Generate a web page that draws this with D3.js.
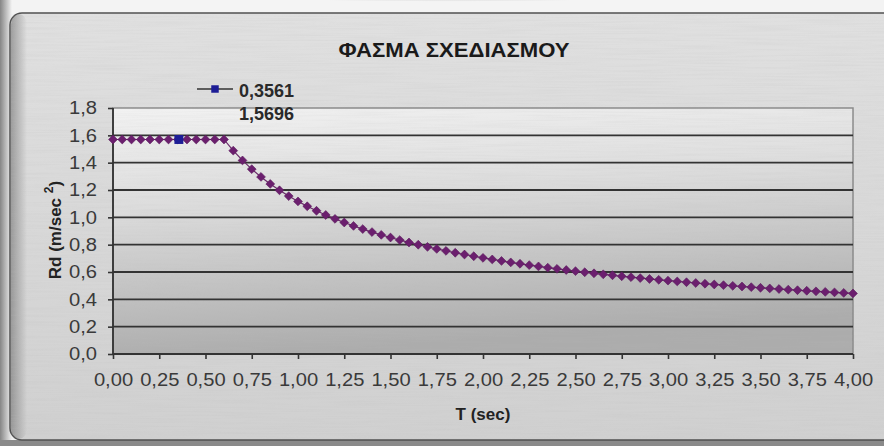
<!DOCTYPE html>
<html><head><meta charset="utf-8">
<script src="https://cdn.jsdelivr.net/npm/d3@7"></script>
<style>
html,body{margin:0;padding:0;background:#f2f2f2;}
svg{display:block;font-family:"Liberation Sans",Arial,sans-serif;}
</style></head>
<body>
<svg id="c" width="884" height="446"></svg>
<script>
// ---- data ----
const chartTitle = "ΦΑΣΜΑ ΣΧΕΔΙΑΣΜΟΥ";
const xTitle = "T (sec)";
const periods = [0.00,0.05,0.10,0.15,0.20,0.25,0.30,0.35,0.40,0.45,0.50,0.55,0.60,
  0.65,0.70,0.75,0.80,0.85,0.90,0.95,1.00,1.05,1.10,1.15,1.20,1.25,1.30,1.35,1.40,1.45,1.50,
  1.55,1.60,1.65,1.70,1.75,1.80,1.85,1.90,1.95,2.00,2.05,2.10,2.15,2.20,2.25,2.30,2.35,2.40,
  2.45,2.50,2.55,2.60,2.65,2.70,2.75,2.80,2.85,2.90,2.95,3.00,3.05,3.10,3.15,3.20,3.25,3.30,
  3.35,3.40,3.45,3.50,3.55,3.60,3.65,3.70,3.75,3.80,3.85,3.90,3.95,4.00];
const rdValues = [1.5696,1.5696,1.5696,1.5696,1.5696,1.5696,1.5696,1.5696,1.5696,1.5696,1.5696,1.5696,1.5696,
  1.4881,1.4163,1.3526,1.2957,1.2444,1.1978,1.1554,1.1166,1.0808,1.0479,1.0173,0.9888,0.9622,0.9374,
  0.9141,0.8922,0.8716,0.8521,0.8337,0.8162,0.7997,0.7839,0.7689,0.7546,0.7409,0.7279,0.7154,0.7034,
  0.6919,0.6809,0.6703,0.6601,0.6503,0.6408,0.6317,0.6229,0.6144,0.6062,0.5982,0.5905,0.5831,0.5759,
  0.5689,0.5621,0.5555,0.5491,0.5429,0.5368,0.5309,0.5252,0.5196,0.5142,0.5089,0.5037,0.4987,0.4938,
  0.4890,0.4844,0.4798,0.4754,0.4710,0.4668,0.4626,0.4585,0.4545,0.4507,0.4468,0.4431];
const markT = [0.3561];
const markRd = [1.5696];
const legendLines = ["0,3561","1,5696"];
const xTicks = [0,0.25,0.5,0.75,1,1.25,1.5,1.75,2,2.25,2.5,2.75,3,3.25,3.5,3.75,4];
const yTicks = [0,0.2,0.4,0.6,0.8,1.0,1.2,1.4,1.6,1.8];

// ---- drawing ----
const svg = d3.select("#c");
const defs = svg.append("defs");

const bgGrad = defs.append("linearGradient").attr("id","bgG").attr("x1",0).attr("y1",0).attr("x2",0).attr("y2",1);
bgGrad.append("stop").attr("offset",0).attr("stop-color","#e0e0e0");
bgGrad.append("stop").attr("offset",1).attr("stop-color","#d0d0d0");

const plotGrad = defs.append("linearGradient").attr("id","plotG").attr("x1",0).attr("y1",0).attr("x2",0.2).attr("y2",1);
plotGrad.append("stop").attr("offset",0).attr("stop-color","#f2f2f2");
plotGrad.append("stop").attr("offset",0.4).attr("stop-color","#dcdcdc");
plotGrad.append("stop").attr("offset",1).attr("stop-color","#acacac");

const leftSh = defs.append("linearGradient").attr("id","leftSh").attr("x1",0).attr("y1",0).attr("x2",1).attr("y2",0);
leftSh.append("stop").attr("offset",0).attr("stop-color","#6a6a6a").attr("stop-opacity",0.8);
leftSh.append("stop").attr("offset",1).attr("stop-color","#6a6a6a").attr("stop-opacity",0);

const topSh = defs.append("radialGradient").attr("id","topSh").attr("cx",0.5).attr("cy",0).attr("r",0.6);
topSh.append("stop").attr("offset",0).attr("stop-color","#707070");
topSh.append("stop").attr("offset",0.7).attr("stop-color","#b0b0b0");
topSh.append("stop").attr("offset",1).attr("stop-color","#f4f4f4");

const flt = defs.append("filter").attr("id","brush").attr("x",0).attr("y",0).attr("width","100%").attr("height","100%");
flt.append("feTurbulence").attr("type","fractalNoise").attr("baseFrequency","0.015 0.6").attr("numOctaves",2).attr("seed",3);
flt.append("feColorMatrix").attr("type","matrix").attr("values","0 0 0 0 0.5  0 0 0 0 0.5  0 0 0 0 0.5  0 0 0 0.9 -0.35");

// page backdrop
svg.append("rect").attr("x",0).attr("y",0).attr("width",884).attr("height",446).attr("fill","#f3f3f3");
svg.append("rect").attr("x",130).attr("y",-20).attr("width",640).attr("height",36).attr("fill","url(#topSh)");
svg.append("rect").attr("x",0).attr("y",0).attr("width",12).attr("height",446).attr("fill","url(#leftSh)");
svg.append("rect").attr("x",0).attr("y",440).attr("width",884).attr("height",6).attr("fill","#8a8a8a");

// chart box
svg.append("rect").attr("x",10).attr("y",13).attr("width",890).attr("height",427).attr("rx",12)
  .attr("fill","url(#bgG)").attr("stroke","#505050").attr("stroke-width",1.5);
svg.append("rect").attr("x",11).attr("y",14).attr("width",16).attr("height",425).attr("rx",10).attr("fill","url(#leftSh)").attr("opacity",0.7);
svg.append("rect").attr("x",11).attr("y",14).attr("width",880).attr("height",425).attr("filter","url(#brush)").attr("opacity",0.35);

const x = d3.scaleLinear().domain([0,4]).range([113,853]);
const y = d3.scaleLinear().domain([0,1.8]).range([354,108]);

// plot area
svg.append("rect").attr("x",x(0)).attr("y",y(1.8)).attr("width",x(4)-x(0)).attr("height",y(0)-y(1.8))
  .attr("fill","url(#plotG)").attr("stroke","#8a8a8a").attr("stroke-width",1.5);
svg.append("rect").attr("x",x(0)).attr("y",y(1.8)).attr("width",x(4)-x(0)).attr("height",y(0)-y(1.8))
  .attr("filter","url(#brush)").attr("opacity",0.3);

// gridlines
svg.append("g").selectAll("line").data(yTicks.filter(v=>v>0 && v<1.8)).join("line")
  .attr("x1",x(0)).attr("x2",x(4)).attr("y1",d=>y(d)).attr("y2",d=>y(d))
  .attr("stroke","#333").attr("stroke-width",1.8);

const comma = f => v => f(v).replace(".",",");

const yAxis = svg.append("g").attr("transform",`translate(${x(0)},0)`)
  .call(d3.axisLeft(y).tickValues(yTicks).tickFormat(comma(d3.format(".1f"))).tickSize(5).tickPadding(11));
const xAxis = svg.append("g").attr("transform",`translate(0,${y(0)})`)
  .call(d3.axisBottom(x).tickValues(xTicks).tickFormat(comma(d3.format(".2f"))).tickSize(5).tickPadding(14));
[yAxis,xAxis].forEach(a=>{
  a.select(".domain").attr("stroke","#333").attr("stroke-width",1.8);
  a.selectAll(".tick line").attr("stroke","#333").attr("stroke-width",1.6);
  a.selectAll("text").attr("fill","#3a3a3a").attr("font-size",18).attr("font-family","Liberation Sans, Arial, sans-serif")
    .each(function(){ const w=this.getComputedTextLength(); d3.select(this).attr("textLength",w*1.12).attr("lengthAdjust","spacingAndGlyphs"); });
});
xAxis.select(".domain").attr("d",`M${x(0)},0H${x(4)}`);
yAxis.select(".domain").attr("d",`M0,${y(0)}V${y(1.8)}`);

// series line + diamonds
const pts = periods.map((t,i)=>[t,rdValues[i]]);
svg.append("path").datum(pts).attr("fill","none").attr("stroke","#6a2a6a").attr("stroke-width",1.2)
  .attr("d",d3.line().x(d=>x(d[0])).y(d=>y(d[1])));
const diamond = d3.symbol().type(d3.symbolDiamond2).size(50);
svg.append("g").selectAll("path").data(pts).join("path")
  .attr("transform",d=>`translate(${x(d[0])},${y(d[1])})`).attr("d",diamond)
  .attr("fill","#6b1f6e").attr("stroke","#5a1a5c").attr("stroke-width",0.6);

// highlighted point
const sq = d3.symbol().type(d3.symbolSquare).size(80);
svg.append("g").selectAll("path").data(markT.map((t,i)=>[t,markRd[i]])).join("path")
  .attr("transform",d=>`translate(${x(d[0])},${y(d[1])})`).attr("d",sq).attr("fill","#1d1d96");

// legend
svg.append("line").attr("x1",197).attr("x2",233).attr("y1",89).attr("y2",89).attr("stroke","#333").attr("stroke-width",1.4);
svg.append("path").attr("transform","translate(215,89)").attr("d",d3.symbol().type(d3.symbolSquare).size(56)).attr("fill","#1d1d96");
svg.append("g").selectAll("text").data(legendLines).join("text")
  .attr("x",239).attr("y",(d,i)=>97+i*23).attr("font-size",18).attr("font-weight","bold").attr("fill","#2a2a2a").text(d=>d);

// titles
svg.append("text").attr("x",454).attr("y",57).attr("text-anchor","middle").attr("font-size",20).attr("font-weight","bold")
  .attr("fill","#1a1a1a").attr("textLength",231).attr("lengthAdjust","spacingAndGlyphs").text(chartTitle);
svg.append("text").attr("x",483).attr("y",420).attr("text-anchor","middle").attr("font-size",17).attr("font-weight","bold")
  .attr("fill","#222").text(xTitle);
const yt = svg.append("text").attr("transform","translate(61,230) rotate(-90)").attr("text-anchor","middle")
  .attr("font-size",17).attr("font-weight","bold").attr("fill","#222");
yt.append("tspan").text("Rd (m/sec ");
yt.append("tspan").attr("font-size",12).attr("dy",-8).text("2");
yt.append("tspan").attr("dy",8).text(")");
</script>
</body></html>
